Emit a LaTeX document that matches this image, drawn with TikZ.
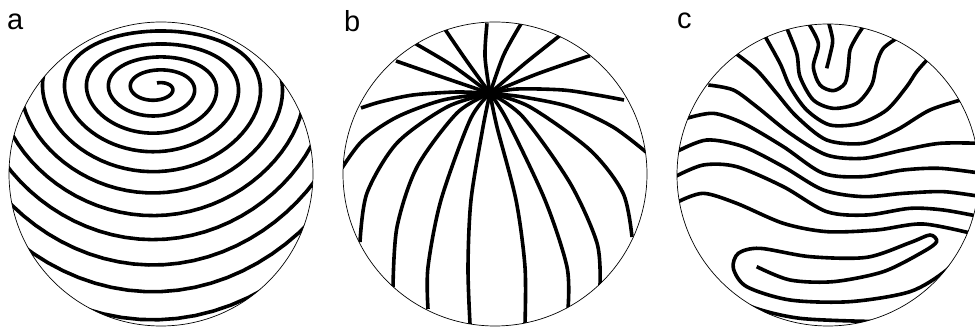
\documentclass[tikz,border=0pt]{standalone}
\usepackage{fontspec}
\newfontfamily\labfont{Liberation Sans}
\begin{document}
\begin{tikzpicture}[x=1pt,y=-1pt,
  thk/.style={line width=3.6pt,line join=round},
  rim/.style={line width=0.7pt},
  lab/.style={anchor=base west,inner sep=0pt,font=\labfont\fontsize{29}{30}\selectfont}]
\useasboundingbox (0,0) rectangle (975,328);
% labels
\node[lab] (la) at (7,30) {a};
\node[lab] (lb) at (344,31.5) {b};
\node[lab] (lc) at (677,29) {c};
% ---------------- panel a
\coordinate (ca) at (161,174);
\begin{scope}
\clip (ca) circle (152);
\draw[thk] plot[domain=0:11,samples=900,variable=\t]
 ({157+(10+22*\t)*sin(360*\t)},
  {88-(4.8+13.75*\t+0.34*\t*\t)*cos(360*\t)+(-0.2+0.75*\t+0.34*\t*\t)*cos(360*\t)*cos(360*\t)});
\end{scope}
\draw[rim] (ca) circle (152);
% ---------------- panel b
\coordinate (cb) at (495,174);
\begin{scope}
\clip (cb) circle (152);
\begin{scope}[shift={(330pt,0pt)},x=0.33333pt,y=-0.33333pt]
\coordinate (hub) at (480,280);
\foreach \pts in {
 {(480,280) (408,180) (345,88)},
 {(480,280) (465,170) (471,70)},
 {(480,280) (521,165) (574,70)},
 {(480,280) (585,190) (693,104)},
 {(480,280) (621,222) (780,167)},
 {(480,280) (369,198) (258,132)},
 {(480,280) (339,232) (198,183)},
 {(480,280) (561,267) (699,270) (801,285) (882,300)},
 {(480,280) (381,276) (249,285) (150,306) (93,324)},
 {(480,280) (579,291) (720,321) (849,381) (948,456)},
 {(480,280) (339,300) (201,351) (99,420) (36,504)},
 {(480,280) (600,321) (780,450) (879,579) (906,711)},
 {(480,280) (351,321) (201,429) (111,579) (90,726)},
 {(480,280) (579,351) (720,549) (801,729) (810,855)},
 {(480,280) (381,339) (261,501) (201,681) (189,861)},
 {(480,280) (531,360) (645,600) (711,801) (714,927)},
 {(480,280) (420,360) (333,600) (294,801) (294,927)},
 {(480,280) (501,381) (558,600) (585,801) (585,972)},
 {(480,280) (459,381) (423,600) (414,801) (420,972)}}
 \draw[thk] plot[smooth] coordinates \pts;
\end{scope}
\end{scope}
\draw[rim] (cb) circle (152);
% ---------------- panel c
\coordinate (cc) at (828,175);
\begin{scope}
\clip (cc) circle (151);
\begin{scope}[shift={(650pt,0pt)},x=0.33333pt,y=-0.33333pt]
\foreach \pts in {
 {(535,65) (548,120) (540,165) (530,205)},
 {(472,65) (505,130) (490,200) (510,255) (550,272) (585,250) (595,200) (600,150) (620,110) (645,72)},
 {(405,72) (440,160) (450,230) (490,300) (550,325) (620,310) (665,255) (680,190) (700,145) (745,112)},
 {(340,100) (390,190) (420,260) (470,330) (540,375) (630,370) (710,330) (770,260) (800,215) (840,170)},
 {(250,155) (320,210) (380,280) (440,350) (530,420) (640,430) (740,390) (840,330) (950,295)},
 {(175,255) (250,270) (320,320) (420,400) (530,465) (640,475) (760,450) (870,430) (995,430)},
 {(110,355) (190,340) (280,370) (400,440) (520,520) (640,530) (760,510) (870,505) (995,520)},
 {(80,455) (170,420) (280,440) (400,500) (520,570) (640,590) (760,580) (880,575) (995,590)},
 {(75,530) (160,495) (260,500) (400,560) (530,635) (650,645) (780,625) (880,630) (990,650)},
 {(85,605) (160,580) (260,610) (400,670) (530,695) (680,690) (820,672) (985,705)},
 {(320,800) (420,840) (550,845) (700,815) (820,755) (860,725) (840,705) (780,728) (650,772) (480,770) (330,745) (265,760) (250,805) (290,860) (420,900) (600,905) (780,875) (890,810) (950,740)},
 {(115,735) (170,840) (290,915) (450,955) (695,965)}}
 \draw[thk] plot[smooth] coordinates \pts;
\end{scope}
\end{scope}
\draw[rim] (cc) circle (151);
\end{tikzpicture}
\end{document}
